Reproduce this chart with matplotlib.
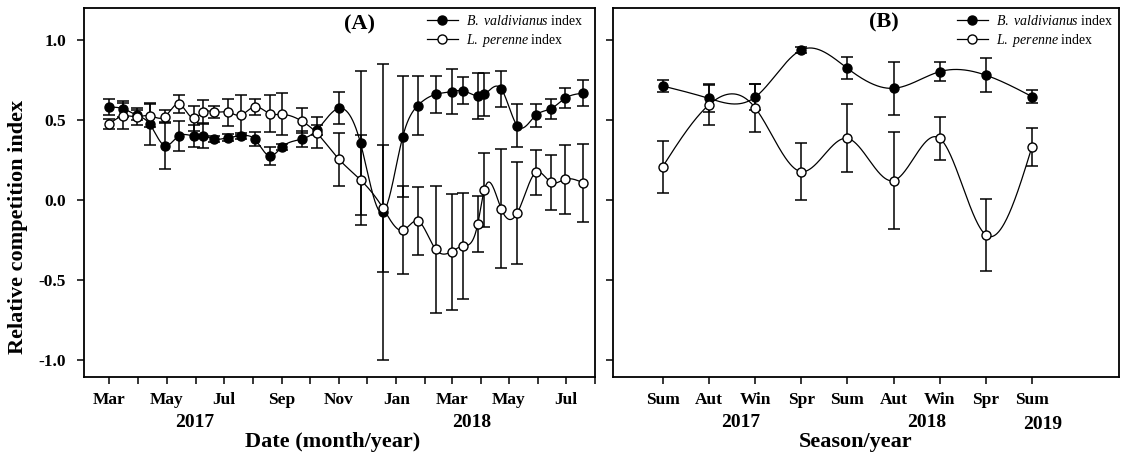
import numpy as np
import pandas as pd
import matplotlib
matplotlib.use("Agg")
import matplotlib.pyplot as plt
import matplotlib.dates as mdates
from matplotlib.lines import Line2D
from matplotlib.ticker import FuncFormatter

plt.rcParams['font.family'] = ['Liberation Serif', 'DejaVu Serif']
plt.rcParams['mathtext.fontset'] = 'custom'
plt.rcParams['mathtext.rm'] = 'Liberation Serif'
plt.rcParams['mathtext.it'] = 'Liberation Serif:italic'
plt.rcParams['axes.unicode_minus'] = False

# ---- panel A : sampling dates ----
sample_dates = ['2017-03-01', '2017-03-16', '2017-03-30', '2017-04-13', '2017-04-29', '2017-05-14',
                '2017-05-30', '2017-06-09', '2017-06-21', '2017-07-06', '2017-07-19', '2017-08-03',
                '2017-08-19', '2017-09-01', '2017-09-22', '2017-10-08', '2017-11-01', '2017-11-24',
                '2017-12-18', '2018-01-08', '2018-01-24', '2018-02-12', '2018-03-01', '2018-03-13',
                '2018-03-29', '2018-04-05', '2018-04-23', '2018-05-10', '2018-05-30', '2018-06-15',
                '2018-06-30', '2018-07-19']
bv_date = [0.58, 0.57, 0.53, 0.475, 0.34, 0.40, 0.40, 0.40, 0.38, 0.39, 0.40, 0.38,
           0.275, 0.33, 0.38, 0.435, 0.573, 0.354, -0.077, 0.396, 0.59, 0.66, 0.677, 0.683,
           0.65, 0.66, 0.694, 0.465, 0.53, 0.57, 0.635, 0.667]
bv_date_err = [0.049, 0.05, 0.03, 0.132, 0.149, 0.095, 0.068, 0.078, 0.02, 0.02, 0.02, 0.042,
               0.057, 0.02, 0.052, 0.032, 0.099, 0.45, 0.925, 0.38, 0.185, 0.117, 0.14, 0.083,
               0.143, 0.133, 0.115, 0.133, 0.071, 0.061, 0.0625, 0.08]
lp_date = [0.475, 0.525, 0.52, 0.527, 0.52, 0.60, 0.51, 0.55, 0.55, 0.548, 0.53, 0.583,
           0.54, 0.535, 0.494, 0.42, 0.254, 0.125, -0.052, -0.19, -0.131, -0.308, -0.323, -0.288,
           -0.15, 0.063, -0.056, -0.083, 0.173, 0.11, 0.129, 0.108]
lp_date_err = [0.031, 0.081, 0.052, 0.073, 0.042, 0.059, 0.077, 0.077, 0.04, 0.085, 0.127, 0.05,
               0.115, 0.131, 0.078, 0.097, 0.167, 0.281, 0.396, 0.276, 0.214, 0.396, 0.3625, 0.333,
               0.174, 0.232, 0.372, 0.318, 0.14, 0.17, 0.214, 0.243]

# ---- panel B : seasons ----
seasons = ['Sum', 'Aut', 'Win', 'Spr', 'Sum', 'Aut', 'Win', 'Spr', 'Sum']
bv_season = [0.7125, 0.635, 0.642, 0.9375, 0.823, 0.698, 0.802, 0.78, 0.646]
bv_season_err = [0.04, 0.087, 0.08, 0.02, 0.07, 0.165, 0.06, 0.105, 0.04]
lp_season = [0.208, 0.594, 0.577, 0.177, 0.385, 0.121, 0.385, -0.219, 0.333]
lp_season_err = [0.163, 0.125, 0.15, 0.18, 0.213, 0.305, 0.133, 0.224, 0.118]


def natural_spline(x, y, num=600):
    # natural cubic spline through the points (SigmaPlot style smooth line)
    x = np.asarray(x, float)
    y = np.asarray(y, float)
    n = len(x)
    h = np.diff(x)
    A = np.zeros((n, n))
    r = np.zeros(n)
    A[0, 0] = A[-1, -1] = 1
    for i in range(1, n - 1):
        A[i, i - 1] = h[i - 1]
        A[i, i] = 2 * (h[i - 1] + h[i])
        A[i, i + 1] = h[i]
        r[i] = 3 * ((y[i + 1] - y[i]) / h[i] - (y[i] - y[i - 1]) / h[i - 1])
    c = np.linalg.solve(A, r)
    b = (y[1:] - y[:-1]) / h - h * (2 * c[:-1] + c[1:]) / 3
    d = (c[1:] - c[:-1]) / (3 * h)
    xs = np.linspace(x[0], x[-1], num)
    idx = np.clip(np.searchsorted(x, xs) - 1, 0, n - 2)
    dx = xs - x[idx]
    return xs, y[idx] + b[idx] * dx + c[idx] * dx ** 2 + d[idx] * dx ** 3


def draw_series(ax, x, y, err, face):
    xs, ys = natural_spline(x, y)
    ax.plot(xs, ys, color='black', lw=0.9, zorder=2)
    ax.errorbar(x, y, yerr=err, fmt='none', ecolor='black', elinewidth=1.1,
                capsize=4, capthick=1.1, zorder=3)
    ax.plot(x, y, 'o', ms=6.5, mfc=face, mec='black', mew=1.0, zorder=4)


def style_axis(ax):
    for s in ax.spines.values():
        s.set_linewidth(1.3)
    ax.set_ylim(-1.107, 1.2)
    ax.set_yticks([-1.0, -0.5, 0.0, 0.5, 1.0])
    ax.tick_params(axis='both', which='both', direction='out', length=5, width=1.1)
    ax.tick_params(axis='x', which='both', pad=6, labelsize=12.5)
    ax.tick_params(axis='y', pad=8, labelsize=12.5)
    for lab in ax.get_xticklabels() + ax.get_yticklabels():
        lab.set_fontweight('bold')


def add_legend(ax, x0, y0):
    handles = [Line2D([], [], color='black', lw=0.9, marker='o', ms=6.5, mfc='black', mec='black'),
               Line2D([], [], color='black', lw=0.9, marker='o', ms=6.5, mfc='white', mec='black')]
    labels = [r'$\mathit{B.}$ $\mathit{valdivianus}$ index', r'$\mathit{L.}$ $\mathit{perenne}$ index']
    ax.legend(handles, labels, loc='upper left', bbox_to_anchor=(x0, y0), frameon=False,
              fontsize=10, handlelength=2.25, handletextpad=0.55, labelspacing=0.3,
              borderpad=0, borderaxespad=0)


fig = plt.figure(figsize=(11.23, 4.57), dpi=100)
ax1 = fig.add_axes([0.0748, 0.175, 0.455, 0.8075])
ax2 = fig.add_axes([0.5461, 0.175, 0.4506, 0.8075])

# panel A
xd = mdates.date2num(pd.to_datetime(sample_dates))
draw_series(ax1, xd, bv_date, bv_date_err, 'black')
draw_series(ax1, xd, lp_date, lp_date_err, 'white')
ax1.set_xlim(mdates.date2num(pd.Timestamp('2017-02-02')), mdates.date2num(pd.Timestamp('2018-08-01')))
ax1.xaxis.set_major_locator(mdates.MonthLocator())


def month_label(v, pos):
    d = mdates.num2date(v)
    return d.strftime('%b') if d.month % 2 == 1 else ''


ax1.xaxis.set_major_formatter(FuncFormatter(month_label))
style_axis(ax1)
ax1.set_ylabel('Relative competition index', fontsize=16, fontweight='bold')
ax1.yaxis.set_label_coords(-0.11, 0.408)
ax1.set_xlabel('Date (month/year)', fontsize=16, fontweight='bold', va='top')
ax1.xaxis.set_label_coords(0.487, -0.149)
ax1.text(0.217, -0.122, '2017', transform=ax1.transAxes, ha='center', va='center',
         fontsize=14, fontweight='bold')
ax1.text(0.759, -0.122, '2018', transform=ax1.transAxes, ha='center', va='center',
         fontsize=14, fontweight='bold')
ax1.text(0.540, 0.954, '(A)', transform=ax1.transAxes, ha='center', va='center',
         fontsize=16, fontweight='bold')
add_legend(ax1, 0.6706, 0.985)

# panel B
xs_pos = np.arange(1, len(seasons) + 1)
draw_series(ax2, xs_pos, bv_season, bv_season_err, 'black')
draw_series(ax2, xs_pos, lp_season, lp_season_err, 'white')
ax2.set_xlim(-0.07, 10.89)
ax2.set_xticks(xs_pos)
ax2.set_xticklabels(seasons)
style_axis(ax2)
ax2.set_yticklabels([])
ax2.set_xlabel('Season/year', fontsize=16, fontweight='bold', va='top')
ax2.xaxis.set_label_coords(0.478, -0.149)
for txt, xf, yf in [('2017', 0.252, -0.122), ('2018', 0.619, -0.122), ('2019', 0.849, -0.13)]:
    ax2.text(xf, yf, txt, transform=ax2.transAxes, ha='center', va='center',
             fontsize=14, fontweight='bold')
ax2.text(0.535, 0.962, '(B)', transform=ax2.transAxes, ha='center', va='center',
         fontsize=16, fontweight='bold')
add_legend(ax2, 0.6787, 0.985)

fig.savefig('out.png', dpi=100)
